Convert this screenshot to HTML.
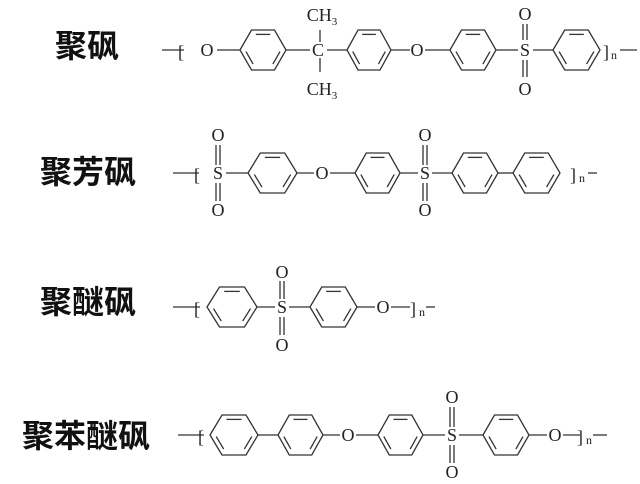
<!DOCTYPE html>
<html><head><meta charset="utf-8"><style>
html,body{margin:0;padding:0;background:#fff;}
svg{display:block;}
.t{font-family:"Liberation Serif",serif;font-size:18px;fill:#222;text-anchor:middle;}
.n{font-family:"Liberation Serif",serif;font-size:12px;fill:#222;}
.cn{font-family:"Liberation Sans","Noto Sans CJK SC",sans-serif;font-size:32px;fill:#111;font-weight:bold;}
</style></head><body>
<svg id="s" width="640" height="484" viewBox="0 0 640 484" xmlns="http://www.w3.org/2000/svg">
<text class="cn" x="55" y="57">聚砜</text>
<text class="cn" x="40" y="183">聚芳砜</text>
<text class="cn" x="40" y="313">聚醚砜</text>
<text class="cn" x="22" y="447">聚苯醚砜</text>
<g id="g" stroke="#333" stroke-width="1.3" fill="none"></g>
<text class="t" x="181" y="58">[</text>
<text class="t" x="207" y="56">O</text>
<text class="t" x="318" y="56">C</text>
<text class="t" x="322" y="21">CH<tspan font-size="11" dy="4">3</tspan></text>
<text class="t" x="322" y="95">CH<tspan font-size="11" dy="4">3</tspan></text>
<text class="t" x="417" y="56">O</text>
<text class="t" x="525" y="56">S</text>
<text class="t" x="525" y="20">O</text>
<text class="t" x="525" y="95">O</text>
<text class="t" x="606" y="58">]</text>
<text class="n" x="611" y="59">n</text>
<text class="t" x="197" y="181">[</text>
<text class="t" x="218" y="179">S</text>
<text class="t" x="218" y="141">O</text>
<text class="t" x="218" y="216">O</text>
<text class="t" x="322" y="179">O</text>
<text class="t" x="425" y="179">S</text>
<text class="t" x="425" y="141">O</text>
<text class="t" x="425" y="216">O</text>
<text class="t" x="573" y="181">]</text>
<text class="n" x="579" y="182">n</text>
<text class="t" x="197" y="315">[</text>
<text class="t" x="282" y="313">S</text>
<text class="t" x="282" y="278">O</text>
<text class="t" x="282" y="351">O</text>
<text class="t" x="383" y="313">O</text>
<text class="t" x="413" y="315">]</text>
<text class="n" x="419" y="316">n</text>
<text class="t" x="201" y="443">[</text>
<text class="t" x="348" y="441">O</text>
<text class="t" x="452" y="441">S</text>
<text class="t" x="452" y="403">O</text>
<text class="t" x="452" y="478">O</text>
<text class="t" x="555" y="441">O</text>
<text class="t" x="580" y="443">]</text>
<text class="n" x="586" y="444">n</text>
</svg>
<script>
var g=document.getElementById('g'),o='';
function L(a,b,c,d){o+='<line x1="'+a+'" y1="'+b+'" x2="'+c+'" y2="'+d+'"/>';}
function H(a,b,y){L(a,y,b,y);}
function R(x1,x2,cy){var w=x2-x1,h=20,q=w/4;
var p=[[x1,cy],[x1+q,cy-h],[x2-q,cy-h],[x2,cy],[x2-q,cy+h],[x1+q,cy+h]];
o+='<polygon points="'+p.map(function(v){return v.join(',')}).join(' ')+'"/>';
var cx=(x1+x2)/2;
[[1,2],[3,4],[5,0]].forEach(function(e){var a=p[e[0]],b=p[e[1]];
var s=0.78,ax=cx+(a[0]-cx)*s,ay=cy+(a[1]-cy)*s,bx=cx+(b[0]-cx)*s,by=cy+(b[1]-cy)*s;
var mx=(ax+bx)/2,my=(ay+by)/2;ax=mx+(ax-mx)*0.8;bx=mx+(bx-mx)*0.8;ay=my+(ay-my)*0.8;by=my+(by-my)*0.8;L(ax,ay,bx,by);});}
function SO(x,yt,yb){L(x-2,yt,x-2,yb);L(x+2,yt,x+2,yb);}
var y=50;H(162,184,y);H(217,240,y);R(240,286,y);H(286,310,y);L(320,30,320,42);L(320,58,320,72);H(327,347,y);R(347,391,y);H(391,410,y);H(425,450,y);R(450,496,y);H(496,518,y);SO(525,24,40);SO(525,60,77);H(533,553,y);R(553,600,y);H(620,637,y);
y=173;H(173,199,y);H(226,248,y);R(248,297,y);H(297,314,y);H(330,355,y);R(355,400,y);H(400,418,y);SO(425,145,165);SO(425,183,201);SO(218,145,165);SO(218,183,201);H(432,452,y);R(452,498,y);H(498,513,y);R(513,560,y);H(588,597,y);
y=307;H(173,200,y);R(207,257,y);H(257,275,y);SO(282,281,299);SO(282,317,335);H(289,310,y);R(310,357,y);H(357,375,y);H(391,410,y);H(426,435,y);
y=435;H(178,204,y);R(210,258,y);H(258,278,y);R(278,323,y);H(323,340,y);H(356,378,y);R(378,423,y);H(423,445,y);SO(452,407,427);SO(452,445,463);H(459,483,y);R(483,529,y);H(529,547,y);H(563,580,y);H(593,607,y);
g.innerHTML=o;
</script>
</body></html>
